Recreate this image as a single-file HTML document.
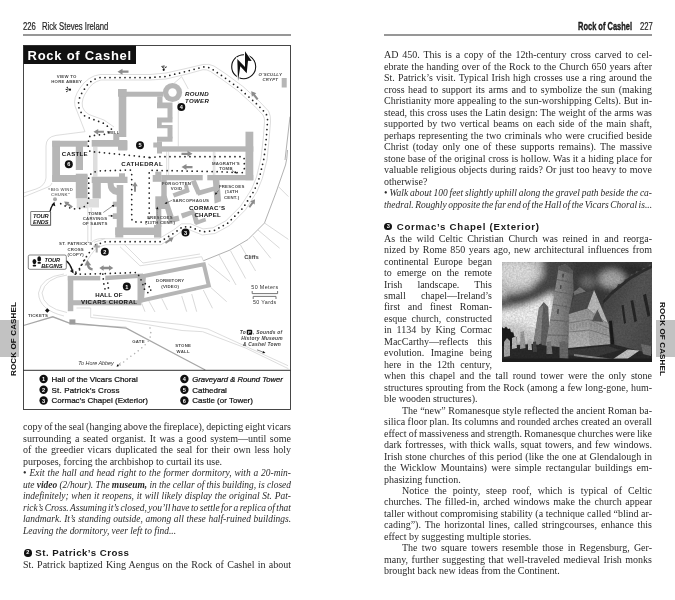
<!DOCTYPE html>
<html lang="en"><head><meta charset="utf-8"><title>Rock of Cashel</title>
<style>
html,body{margin:0;padding:0;background:#fff;}
body{width:675px;height:600px;position:relative;overflow:hidden;will-change:transform;font-family:'Liberation Serif',serif;color:#222;}
.t{position:absolute;white-space:pre;font-family:'Liberation Serif',serif;font-size:10.0px;line-height:12px;height:12px;color:#2a2a2a;}
.t b{font-weight:bold;}
.t i{font-size:9.45px;}
.hd{position:absolute;font-family:'Liberation Sans',sans-serif;white-space:pre;color:#222;-webkit-text-stroke:.2px #222;transform-origin:0 50%;}
.rule{position:absolute;height:1.3px;background:#979797;}
.h3{position:absolute;font-family:'Liberation Sans',sans-serif;font-weight:bold;white-space:pre;color:#1a1a1a;font-size:9.7px;line-height:12px;}
.bul{position:absolute;width:7.6px;height:7.6px;border-radius:50%;background:#111;color:#fff;font:bold 5.6px/7.6px 'Liberation Sans',sans-serif;text-align:center;}
.tab{position:absolute;background:#c2c2c2;}
.tabt{position:absolute;font-family:'Liberation Sans',sans-serif;font-weight:bold;font-size:8.05px;line-height:8.4px;white-space:pre;color:#111;letter-spacing:0.1px;}
#map{position:absolute;left:23px;top:45px;width:268px;height:365px;}
#photo{position:absolute;left:502px;top:262px;width:150px;height:100px;}
</style></head><body>
<div class="hd" style="left:23px;top:19px;font-size:11px;line-height:14px;transform:scaleX(0.70);">226</div>
<div class="hd" style="left:41.6px;top:19px;font-size:11px;line-height:14px;transform:scaleX(0.70);">Rick Steves Ireland</div>
<div class="rule" style="left:23px;top:34.3px;width:268px;"></div>
<div class="hd" style="left:578.3px;top:19px;font-size:11px;line-height:14px;font-weight:bold;-webkit-text-stroke:.35px #111;transform:scaleX(0.68);">Rock of Cashel</div>
<div class="hd" style="left:639.8px;top:19px;font-size:11px;line-height:14px;transform:scaleX(0.70);">227</div>
<div class="rule" style="left:384px;top:34.3px;width:268px;"></div>
<svg id="map" viewBox="23 45 268 365" width="268" height="365">
<defs>
<style>
.w{fill:#b6b6b6}
.lw{fill:#dedede}
.lo{fill:none;stroke:#d4d4d4;stroke-width:.8}
.mo{fill:none;stroke:#a8a8a8;stroke-width:.9}
.hc{fill:none;stroke:#c8c8c8;stroke-width:.7}
.dp{fill:none;stroke:#222;stroke-width:1.75;stroke-dasharray:0 5;stroke-linecap:round;stroke-linejoin:round}
.ga{fill:#8c8c8c}
.gl{font-family:'Liberation Sans',sans-serif;font-size:4.3px;fill:#484848;text-anchor:middle;letter-spacing:.25px;font-weight:bold}
.bl{font-family:'Liberation Sans',sans-serif;font-size:6.4px;fill:#111;font-weight:bold;font-style:italic;letter-spacing:.35px}
.lg{font-family:'Liberation Sans',sans-serif;font-size:8px;fill:#111;stroke:#111;stroke-width:.22}
.mk{fill:#111}
.mt{font-family:'Liberation Sans',sans-serif;font-size:5.6px;font-weight:bold;fill:#fff;text-anchor:middle}
</style>
<path id="arr" d="M-5.5,-1.1H0.5V-3L5.5,0L0.5,3V1.1H-5.5Z"/>
</defs>
<rect x="23" y="45" width="268" height="365" fill="#fff"/>

<!-- light ground outlines -->
<g class="lo">
<path d="M150,74.5H100Q88,76 80,88Q73,98 75,106L85,131.7L56,135.4Q46,137 46,146V178Q45,186 36,189L23.5,193"/>
<path d="M23.5,197L48,187Q51,186 52,183"/>
<path d="M150,74.5L166,73L186,68.5L203,64.5Q209,63.5 214,66L226,74L243,86.5L259.5,101.5L268.5,111Q271,116 270.5,122L269,140L267,160"/>
<path d="M178.3,101.7V146.5"/>
<path d="M267,160L262.3,178.5L257,191.5L245.5,209.8L230,225.3L215,233.5L202.3,235L189.5,229.8H183.6L176.8,235L161,244.7H106L96.6,247.7L91.2,254.5L85,264"/>
<path d="M150,80H101Q92,82 87,91Q81,99 82.5,107Q84,112 89,114.5L104,120L114,127M150,80L166,79L186,74.3L203,69.7Q207,69.3 210.5,71.5L221.5,79L238,91L254.5,106L263,115Q264.8,118 264.5,121.7L263.3,138L261,158L256.5,177L251.7,189L240.5,206.3L226,220.7L213,227.8L203,228.9L190.5,223.8H181.6L173.5,230L159,238.7H105L94,242.3"/>
<path d="M174,83.3L181.7,76.7L188.3,89"/>
<path d="M166.7,151.5V175M168.7,151.5V175M213.3,151.5V175M214.8,151.5V175"/>
<path d="M87.8,208V243M91.2,208V241"/>
<path d="M67,275Q45,278 42,293Q43,308 67,312.5"/>
<path d="M64,274Q41,277 38.5,293Q39,310 64,316"/>
<path d="M76.5,308H90.7V317.5L126.3,321L182,330.5L202.7,331.7L245.6,348L288.4,368.7M93,315L182,324.6L207.8,329L288,365.7M75.3,324.6L126.3,327"/>
<path d="M120,246.7L140,265.8L201.7,256.7L203.3,260.8"/>
<path d="M124,244L143,263L200,254"/>
<path d="M92,242Q96,238 105,238.5"/>
</g>

<!-- cliff edge and cliffs -->
<g class="mo">
<path d="M287.5,150Q287,160 285.5,165L276,192.5L264.5,223L248,239.5L230,250L203.3,260.8"/>
<path d="M290,116.7L285,160"/>
</g>
<g class="hc">
<path d="M278.3,186.5L288.4,196.6M264.5,223L288.4,239.4M258,230L279.6,248.2M253,236L270.8,258.3M240.5,245L255.6,271M230.5,250.8L245.6,278.5M219,255L236,285M208.3,264L230,281.7M210.8,287.5L226.7,301.7M203.3,290L212.5,308.3M191.7,294L196.7,311.7M181.7,296L186.7,311.7M161.7,298.3L167.5,310M148.3,300L155,312M141.7,303.3L145,311.7"/>
</g>

<!-- road / stone wall -->
<g fill="none" stroke="#a6a6a6" stroke-width="1.3">
<path d="M23.5,325.5L52.8,316.8L69.4,323L126.3,328.2L182,357.8L205.3,370"/>
</g>
<rect x="69.4" y="319.4" width="6" height="5.2" fill="#9c9c9c"/>
<path d="M150,328Q152.5,336 147,343Q139,351 128.6,357.8L119,366" fill="none" stroke="#b4b4b4" stroke-width="1.6" stroke-dasharray="0 4.6" stroke-linecap="round"/>

<!-- light gray fills -->
<rect class="lw" x="76.7" y="198.3" width="11.6" height="10"/>
<rect class="lw" x="88.3" y="199" width="10.7" height="8.5"/>
<rect class="lw" x="93" y="146.7" width="4.5" height="30"/>

<!-- walls -->
<g class="w">
<!-- N transept -->
<rect x="118.7" y="89" width="7.6" height="48"/>
<rect x="118" y="89" width="8.6" height="7.7"/>
<rect x="126" y="91.7" width="37.3" height="5"/>
<rect x="157.2" y="96.5" width="5.3" height="7"/>
<rect x="157" y="102.5" width="15.5" height="5.8"/>
<rect x="167.5" y="108" width="5" height="10.5"/>
<path d="M157,117.5H172.5V122.5H161.7V125H172.5V128.3H157Z"/>
<rect x="167.5" y="128" width="5" height="10.5"/>
<rect x="157" y="136.7" width="15.5" height="5"/>
<rect x="157" y="141.5" width="5" height="12"/>
<rect x="153.3" y="142.5" width="4" height="5"/>
<!-- choir -->
<rect x="162" y="146.3" width="91.3" height="5.4"/>
<rect x="245.5" y="131.7" width="7.8" height="48.5"/>
<rect x="207.3" y="175" width="46" height="5.3"/>
<rect x="161.3" y="175" width="41.4" height="5.3"/>
<rect x="155.3" y="171.7" width="6" height="4"/><rect x="152.7" y="175" width="8.8" height="6.8"/>
<!-- nave north / well knob -->
<rect x="91.7" y="140" width="27" height="6.7"/>
<rect x="113.3" y="134" width="6" height="6.5"/>
<rect x="118" y="140" width="9.5" height="10.5" rx="1"/>
<!-- castle -->
<rect x="52.2" y="140.8" width="7.8" height="41"/>
<rect x="52.2" y="140.8" width="35.3" height="5.9"/>
<rect x="75.8" y="146" width="7.2" height="24"/>
<rect x="52.2" y="175" width="35.3" height="7"/>
<rect x="75.8" y="173.7" width="11.7" height="24.6"/>
<!-- nave south west part -->
<rect x="91.7" y="176.7" width="35.8" height="6.3"/>
<rect x="119" y="173.3" width="6" height="4"/>
<rect x="92.5" y="182.5" width="8.3" height="16"/>
<path d="M107.5,182.5H113.5Q113.5,187.5 117,188V195Q107.5,194 107.5,182.5Z"/>
<rect x="116.7" y="185" width="6.6" height="50"/>
<rect x="112.8" y="201.7" width="4.2" height="5"/>
<rect x="112.8" y="213.3" width="4.2" height="5.7"/>
<!-- S transept bottom -->
<rect x="115.3" y="227.5" width="45.5" height="7.5"/>
<rect x="115.3" y="227.5" width="8" height="10"/>
<rect x="154" y="225" width="7.3" height="12.6"/>
<!-- S transept E wall -->
<rect x="161.3" y="180" width="5.4" height="17.6"/><rect x="155.3" y="196.3" width="11.4" height="12.7"/>
<rect x="156" y="197" width="5.3" height="30"/>
<!-- Cormac's chapel -->
<polygon points="161.3,195.8 166.6,195.8 173.7,216.6 167.8,217.8"/>
<polygon points="167.8,217.8 178.4,215.4 179.6,220.7 169,223.7"/>
<polygon points="172.5,193.5 187.3,188.1 189.1,192.3 174.3,197.6"/>
<polygon points="183.8,185.5 187.6,184.3 189.8,191.7 186,193"/>
<polygon points="190.9,181.6 195.6,179.8 200.9,192.3 196.8,194.7"/>
<polygon points="196.8,191.1 216.4,185.8 217.5,189.9 198,195.8"/>
<polygon points="212.8,179.8 219.3,179.8 221.1,201.2 214.6,203.5"/>
<polygon points="180.8,213.6 193.8,209.5 195,213.6 182.6,218.4"/>
<polygon points="191.5,213.6 195.6,212.4 198.6,220.1 205.1,217.8 206.3,221.3 196.2,224.9 194.4,223.7"/>
<!-- crypt -->
<rect x="281.7" y="78" width="5" height="9.5"/>
<!-- Hall of Vicars Choral -->
<rect x="67.8" y="275.9" width="32.5" height="4.5"/>
<polygon points="105.3,275.7 143,273.4 143,277.8 105.3,280.3"/>
<rect x="67.8" y="275.9" width="5.5" height="35.3"/>
<rect x="69.3" y="300.2" width="72" height="5.1"/>
<rect x="137.5" y="275" width="5" height="27.5"/>
</g>
<!-- round tower -->
<circle cx="172.5" cy="92.5" r="9.6" class="w"/><circle cx="172.5" cy="92.5" r="4.2" fill="#fff"/>
<!-- dormitory -->
<polygon points="144,276 203.8,264.3 208.8,285.6 142,300.4" fill="none" stroke="#b6b6b6" stroke-width="4" stroke-linejoin="miter"/>

<!-- dotted tour path -->
<g class="dp">
<!-- outer loop -->
<path d="M150,77.5H100Q89,80 84,90Q77,99 79,108Q81,115 88,117.5L103,123L112,129.5L106.5,134L90,136Q88,140 88.3,147L90,151.5L107,153L150,157.5"/>
<path d="M150,77.5L165,76.5L185,71.7L203,67Q208,66.5 212,69L223.3,76.7L240,89L256.7,104L265.8,113.3Q267.8,117 267.5,121.7L266.3,138.3L264,158.3L259.4,177.7L254.4,190.3L243,208L228,223L214,230.6L202.7,231.9L190,226.8H182.6L175,232.5L160,241.7H105.3L95.3,245L88.7,253.3L82,263.3L79.5,270L75.3,274.2"/>
<!-- choir loop -->
<path d="M150,157.5L160,156.7H241.8Q244.3,157 244.3,160V170Q244.3,172.7 241,172.7L220,171.7L150,170.3Q149.2,171 149.2,173.3V216.7Q149,222 145,222H136.7Q131.7,222 131.7,218.3V171.7Q131.5,170 130,170L100,170.8Q91,172 88.7,176.7V199Q88.3,207 78,208.8L72,208.8L63,205L57.5,201.7"/>
<!-- hall -->
<path d="M75.3,274.2L102,273.7L136.7,272.5L140,277.5L142.5,283.3L145,290.8L149,293.3L151.7,288.3L146.7,285L142.5,281"/>
<path d="M102.8,274L103.7,283.3L105,289M107.8,283L108.5,289.2"/>
<path d="M84.5,260L80,268L74.2,273.7"/>
</g>

<!-- gray arrows -->
<g class="ga">
<use href="#arr" transform="translate(123,71.7) rotate(180)"/>
<use href="#arr" transform="translate(98.7,131.8) rotate(180) scale(.95)"/>
<use href="#arr" transform="translate(187,153.8)"/>
<use href="#arr" transform="translate(187,167.1) rotate(180)"/>
<use href="#arr" transform="translate(135,186.7) rotate(-90) scale(.9)"/>
<use href="#arr" transform="translate(254.4,95.3) rotate(-128) scale(.95)"/>
<use href="#arr" transform="translate(252.2,203.2) rotate(-55) scale(.9)"/>
<use href="#arr" transform="translate(68.2,204.4) rotate(-144) scale(.9)"/>
<use href="#arr" transform="translate(169.5,240.2) rotate(-33) scale(.88)"/>
<path d="M99.3,268L103.6,265.2V266.7H109V265.2L113.3,268L109,270.8V269.3H103.6V270.8Z"/>
<path d="M92.6,269.4Q88.2,268.8 88,264.6" fill="none" stroke="#8c8c8c" stroke-width="2.3"/><path d="M84.6,265.4L87.4,260L91.2,265.2Z"/>
<circle cx="55" cy="199.2" r="2" fill="#aaa"/>
<path d="M95.7,243.5H97.7V245.6H99.8V247.4H97.7V252.5H95.7V247.4H93.6V245.6H95.7Z" fill="#aaa"/>
</g>

<!-- compass -->
<circle cx="243.7" cy="66.7" r="12" fill="none" stroke="#111" stroke-width="1.1"/>
<path d="M237.3,59L245,67L245,51.3L251.7,61L248,60.7L246.7,73.3L240.3,66.3L238,81Z" fill="#111" stroke="#fff" stroke-width="2" paint-order="stroke"/>
<!-- view icons -->
<g fill="#111">
<path d="M69,89.7l-2.6,-2.2l.9,-.9zM69,89.7l-3.3,.4l0,-1.3zM69,89.7l-2.2,2.6l-.9,-.9z"/><circle cx="70" cy="89.7" r="1.1"/>
<path d="M163.7,69l-2.4,-2.6l.9,-.8zM163.7,69l-.4,-3.6l1.3,0zM163.7,69l2.4,-2.8l.9,.9z"/><circle cx="163.7" cy="69.8" r="1.1"/>
<path d="M47.3,308.2L49.6,310.5L47.3,312.8L45,310.5Z"/>
</g>

<!-- small black pointers -->
<g stroke="#333" stroke-width=".5" fill="#111">
<path d="M50,211.7Q50.8,207.5 52.8,204.6" fill="none" stroke="#111" stroke-width="1.3"/><path d="M54.4,201.8l.9,4.4l-3.7,-1.5z" stroke="none"/>
<path d="M66.3,260.8Q70.2,264 72.2,270" fill="none" stroke="#111" stroke-width="1.4"/><path d="M73.6,273.6l-3.7,-2.6l3.3,-1.7z" stroke="none"/>
<path d="M103.3,212.5L113,205.7" fill="none"/><path d="M114.3,204.8l-1,2.4l-1.7,-2z" stroke="none"/>
<path d="M108.3,215.8H112" fill="none"/><path d="M113.3,215.9l-2.4,1.2v-2.4z" stroke="none"/>
<path d="M157.3,215.4V209" fill="none" stroke-dasharray="1 1"/><path d="M157.3,206.6l1.2,2.6h-2.4z" stroke="none"/>
<path d="M172,200.3L166.5,202.8" fill="none"/><path d="M164.6,203.7l1.8,-2l1,2.1z" stroke="none"/>
<path d="M218.5,190.5L216,193.6" fill="none"/><path d="M215,194.8l.5,-2.6l1.9,1.5z" stroke="none"/>
<path d="M232,170.5L235.5,172.6" fill="none"/><path d="M237,173.4l-2.8,-.3l1.2,-2z" stroke="none"/>
<path d="M257,349.8L263.5,352.3" fill="none" stroke="#111"/><path d="M265.4,353.1l-3,.2l.9,-2.2z" stroke="none"/>
<path d="M120.5,363L117.6,365.8" fill="none" stroke="#111"/><path d="M116.6,366.8l.7,-2.6l1.8,1.8z" stroke="none"/>
</g>

<!-- gray labels -->
<g class="gl">
<text x="66.7" y="78.2">VIEW TO</text><text x="66.7" y="83.2">HORE ABBEY</text>
<text x="270.3" y="76" font-style="italic">O’SCULLY</text><text x="270.3" y="80.6" font-style="italic">CRYPT</text>
<text x="113.3" y="134" font-size="3.9">WELL</text>
<text x="226" y="164.6">MAGRATH’S</text><text x="226" y="170.4">TOMB</text>
<text x="176.5" y="184.9">FORGOTTEN</text><text x="176.5" y="189.9">VOID</text>
<text x="190.8" y="201.5">SARCOPHAGUS</text>
<text x="231.7" y="188">FRESCOES</text><text x="231.7" y="193.1">(14TH</text><text x="231.7" y="198.6">CENT.)</text>
<text x="160" y="219.3">FRESCOES</text><text x="160.3" y="224">(13TH CENT.)</text>
<text x="60.7" y="191" fill="#777">“BIG WIND</text><text x="60.7" y="195.7" fill="#777">CHUNK”</text>
<text x="95" y="214.8">TOMB</text><text x="95" y="219.8">CARVINGS</text><text x="95" y="225.2">OF SAINTS</text>
<text x="75.7" y="245.3">ST. PATRICK’S</text><text x="75.7" y="250.7">CROSS</text><text x="75.7" y="255.7">(COPY)</text>
<text x="170.2" y="282">DORMITORY</text><text x="170.2" y="287.8">(VIDEO)</text>
<text x="38" y="317.3">TICKETS</text>
<text x="138.5" y="342.5">GATE</text>
<text x="183.2" y="347.1">STONE</text><text x="183.2" y="352.9">WALL</text>
<text x="251.5" y="259" font-size="5.9" letter-spacing="0">Cliffs</text>
<text x="264.9" y="289.4" font-size="5.4" letter-spacing=".35" font-weight="normal" fill="#333">50 Meters</text>
<text x="264.8" y="304" font-size="5.4" letter-spacing=".3" font-weight="normal" fill="#333">50 Yards</text>
<text x="96" y="365" font-size="5.4" font-style="italic" font-weight="normal" letter-spacing="0" fill="#333">To Hore Abbey</text>
<g font-style="italic" font-size="4.9" fill="#444"><text x="246" y="334" text-anchor="end">To</text><text x="253" y="334" text-anchor="start">, Sounds of</text><text x="262" y="340.1">History Museum</text><text x="262" y="346">&amp; Cashel Town</text></g>
</g>
<rect x="246.8" y="329.8" width="5.4" height="5" rx="1" fill="#111"/>
<text x="249.5" y="333.8" font-family="'Liberation Sans',sans-serif" font-size="4.4" font-weight="bold" fill="#fff" text-anchor="middle">P</text>
<g fill="none" stroke="#666" stroke-width=".9"><path d="M252.2,291V293.6H277.6V291M253.2,299V296.4H276V299"/></g>

<!-- bold labels -->
<g class="bl" style="font-size:6.1px">
<text x="185" y="96" letter-spacing=".33">ROUND</text><text x="185" y="102.8" letter-spacing=".33">TOWER</text>
<text x="61.7" y="156.1" font-style="normal" letter-spacing=".32">CASTLE</text>
<text x="121.3" y="165.6" font-style="normal" letter-spacing=".48">CATHEDRAL</text>
<text x="189" y="209.9" font-style="normal" letter-spacing=".42">CORMAC’S</text><text x="194.4" y="216.7" font-style="normal" letter-spacing=".25">CHAPEL</text>
<text x="95.2" y="296.6" font-style="normal" letter-spacing=".17">HALL OF</text><text x="81" y="303.8" font-style="normal" letter-spacing=".43">VICARS CHORAL</text>
</g>

<!-- tour boxes -->
<rect x="31.3" y="212.2" width="19.5" height="13.3" fill="#fff" stroke="#555" stroke-width=".6"/>
<rect x="30.8" y="211.7" width="19.5" height="13.3" fill="#fff" stroke="#333" stroke-width=".6"/>
<g class="bl" font-size="5.4" letter-spacing=".2"><text x="33" y="218" style="font-size:5.7px;letter-spacing:-.12px">TOUR</text><text x="33" y="223.8" style="font-size:5.7px;letter-spacing:-.12px">ENDS</text></g>
<rect x="28.3" y="255" width="38" height="14.3" rx="1.5" fill="#fff" stroke="#333" stroke-width=".6"/>
<g class="bl"><text x="44.5" y="261.9" style="font-size:5.7px;letter-spacing:-.12px">TOUR</text><text x="41.3" y="267.6" style="font-size:5.7px;letter-spacing:-.12px">BEGINS</text></g>
<g fill="#111"><ellipse cx="34.4" cy="261.6" rx="1.9" ry="2.6"/><rect x="32.7" y="264.8" width="3.4" height="1.7" rx=".7"/><ellipse cx="39.2" cy="258.9" rx="1.9" ry="2.6"/><rect x="37.5" y="262.1" width="3.4" height="1.7" rx=".7"/></g>

<!-- markers -->
<g>
<circle class="mk" cx="181.3" cy="107" r="4"/><text class="mt" x="181.3" y="109">4</text>
<circle class="mk" cx="140" cy="145.3" r="4"/><text class="mt" x="140" y="147.3">5</text>
<circle class="mk" cx="68.8" cy="164.2" r="4"/><text class="mt" x="68.8" y="166.2">6</text>
<circle class="mk" cx="185.5" cy="232.6" r="4"/><text class="mt" x="185.5" y="234.6">3</text>
<circle class="mk" cx="104.8" cy="251.7" r="4"/><text class="mt" x="104.8" y="253.7">2</text>
<circle class="mk" cx="126.8" cy="286.5" r="4"/><text class="mt" x="126.8" y="288.5">1</text>
</g>

<!-- title -->
<rect x="23" y="45" width="113" height="19" fill="#111"/>
<text x="27.5" y="59.7" font-family="'Liberation Sans',sans-serif" font-size="13" font-weight="bold" fill="#fff" letter-spacing=".75">Rock of Cashel</text>

<!-- legend -->
<line x1="23" y1="370.3" x2="291" y2="370.3" stroke="#333" stroke-width="1"/>
<g>
<circle class="mk" cx="43.6" cy="379" r="4.2"/><text class="mt" x="43.6" y="381.1">1</text>
<circle class="mk" cx="43.6" cy="389.7" r="4.2"/><text class="mt" x="43.6" y="391.8">2</text>
<circle class="mk" cx="43.6" cy="400.5" r="4.2"/><text class="mt" x="43.6" y="402.6">3</text>
<circle class="mk" cx="184.4" cy="379" r="4.2"/><text class="mt" x="184.4" y="381.1">4</text>
<circle class="mk" cx="184.4" cy="389.7" r="4.2"/><text class="mt" x="184.4" y="391.8">5</text>
<circle class="mk" cx="184.4" cy="400.5" r="4.2"/><text class="mt" x="184.4" y="402.6">6</text>
</g>
<g class="lg">
<text x="51.6" y="381.8">Hall of the Vicars Choral</text>
<text x="51.6" y="392.5" letter-spacing=".15">St. Patrick’s Cross</text>
<text x="51.6" y="403.3">Cormac’s Chapel (Exterior)</text>
<text x="192.2" y="381.8" font-style="italic" font-size="7.7">Graveyard &amp; Round Tower</text>
<text x="192.2" y="392.5">Cathedral</text>
<text x="192.2" y="403.3">Castle (or Tower)</text>
</g>
<rect x="23.5" y="45.5" width="267" height="364" fill="none" stroke="#333" stroke-width=".9"/>
</svg>

<svg id="photo" viewBox="0 0 150 100" width="150" height="100" preserveAspectRatio="none">
<defs>
<filter id="b3" x="-10%" y="-10%" width="120%" height="120%"><feGaussianBlur stdDeviation="3"/></filter>
<filter id="b1" x="-5%" y="-5%" width="110%" height="110%"><feGaussianBlur stdDeviation=".5"/></filter>
<filter id="tx" x="0" y="0" width="100%" height="100%"><feTurbulence type="fractalNoise" baseFrequency=".55" numOctaves="2" seed="4" result="n"/><feColorMatrix in="n" type="matrix" values="0 0 0 0 0  0 0 0 0 0  0 0 0 0 0  .9 .9 0 0 -.62" result="a"/><feComposite in="a" in2="SourceGraphic" operator="in"/></filter>
<clipPath id="pc"><rect width="150" height="100"/></clipPath>
<linearGradient id="tw" x1="0" x2="1"><stop offset="0" stop-color="#9c9c9c"/><stop offset=".55" stop-color="#868686"/><stop offset="1" stop-color="#666"/></linearGradient>
<linearGradient id="cw" x1="0" x2="1" y1="0" y2="1"><stop offset="0" stop-color="#3c3c3c"/><stop offset=".5" stop-color="#565656"/><stop offset="1" stop-color="#484848"/></linearGradient>
<linearGradient id="cb" x1="0" x2="0" y1="0" y2="1"><stop offset="0" stop-color="#969696"/><stop offset="1" stop-color="#b8b8b8"/></linearGradient>
</defs>
<g clip-path="url(#pc)">
<rect width="150" height="100" fill="#4c4c4c"/>
<!-- sky -->
<g filter="url(#b3)">
<rect x="-5" y="-5" width="46" height="42" fill="#c6c6c6"/>
<ellipse cx="14" cy="11" rx="20" ry="11" fill="#e0e0e0"/>
<polygon points="4,31 14,31 28,27 41,14 48,-5 80,-5 64,22 50,33 32,44 16,44 4,39" fill="#4a4a4a"/>
<polygon points="-5,47 20,44 36,38 52,30 56,52 46,84 -5,84" fill="#f2f2f2"/>
<polygon points="-5,60 20,62 38,70 38,84 -5,84" fill="#cfcfcf"/>
<rect x="70" y="-5" width="90" height="50" fill="#3a3a3a"/>
<ellipse cx="110" cy="17" rx="13" ry="9" fill="#a8a8a8"/>
<ellipse cx="86" cy="20" rx="8" ry="6" fill="#6e6e6e"/>
<ellipse cx="130" cy="8" rx="14" ry="5" fill="#2c2c2c"/>
</g>
<g filter="url(#b1)">
<!-- distant round tower -->
<polygon points="41.8,40 46.3,45 48,84 31,84 37,46" fill="#626262"/>
<polygon points="37,46 41,43.5 38.5,84 31,84" fill="#858585"/>
<!-- cathedral wall right -->
<polygon points="100.5,39 104,33 107,33.5 110,28 114,27 116,22 121,21.5 123,17 127,17.5 129,12 133,13 134,9 139,10 141,6 146,6.5 147,2.5 150,3 150,100 118,100 112,70" fill="url(#cw)"/>
<polygon points="100.5,39 110,29 128,14.5 140,8 150,3 150,6 140,11 128,18 111,32 101,42" fill="#2e2e2e"/>
<polygon points="119.5,43.5 121.6,42.8 124,61 122,62" fill="#262626"/>
<polygon points="128.5,39 131.2,38 135,59 132.4,60.2" fill="#262626"/>
<polygon points="141,33 144,31.7 148.4,53.5 145.6,55" fill="#262626"/>
<polygon points="107,59 110,58.5 112.5,84 109,84" fill="#1e1e1e"/>
<!-- main tower -->
<polygon points="56.9,4.5 63.5,2 70.8,8.8 71.6,29 67.2,51 66.2,88 42.8,89" fill="url(#tw)"/>
<polygon points="56.9,4.5 63.5,2 70.8,8.8 70.6,12 56.4,8" fill="#5c5c5c"/>
<g stroke="#5e5e5e" stroke-width=".7" fill="none"><path d="M55,17.5L71.2,21M53.2,29.5L71.4,32.5M50.8,42.5L69,45.5M48.2,58L67,59.5M45.6,73L66.5,73.5"/></g>
<g fill="#4a4a4a"><polygon points="60.5,11.5 62,11.8 61.6,15.5 60.1,15.2"/><polygon points="58.2,23 59.6,23.3 59.2,27 57.8,26.7"/><polygon points="55.5,47 57,47.2 56.4,52 54.9,51.8"/></g>
<!-- chapel roof, gable, body -->
<polygon points="72.4,33 91.7,28.5 85.3,47 67,52" fill="#4e4e4e"/>
<polygon points="71.5,30 78,25 84,29.5 72.4,33" fill="#777"/>
<polygon points="92.1,28 85.3,46.5 106.4,62" fill="#bcbcbc"/>
<polygon points="67,52 85.3,46.5 106.4,62 108.2,83 88,88 66.2,88" fill="url(#cb)"/>
<polygon points="85.3,46.5 106.4,62 108.2,83 88,88" fill="#9a9a9a" opacity=".6"/>
<polygon points="95.4,47.5 90,59 101,60" fill="#555"/>
<g stroke="#666" stroke-width=".6" fill="none"><path d="M66.8,61L87,57.5L107,66.5M66.5,70L87.5,68L107.6,74"/></g>
<g stroke="#6a6a6a" stroke-width=".45" fill="none" opacity=".8"><path d="M69,62.5v5M72,62v5M75,61.5v5M78,61v5M81,60.5v5M84,60v5M89,60v5.5M92,61.5v5.5M95,63v5.5M98,64.3v5.5M101,65.6v5.5M104,67v5.5"/></g>
<!-- ground -->
<polygon points="0,84 30,82 66,86 110,82 150,92 150,100 0,100" fill="#2b2b2b"/>
<polygon points="64,88 106,84 118,88 90,96 64,93" fill="#3a3a3a"/>
<polygon points="108,99 125.5,87.5 137.5,88.5 121,100" fill="#c4c4c4"/>
<polygon points="72,92 112,97 112,99 72,94" fill="#8a8a8a"/>
<!-- trees and gravestones left -->
<polygon points="0,65 2,66.5 4,64.5 6,67 8,66.5 9,70 11.5,70.5 12,74 14.5,75 14,84 0,84" fill="#1e1e1e"/>
<polygon points="2,80 5,76 8,79 8,94 2,95" fill="#a8a8a8"/>
<polygon points="10,76 14,74 15,86 10,87" fill="#bcbcbc"/>
<polygon points="18.5,70 22,69 23.5,86 18,87" fill="#9c9c9c"/>
<polygon points="26,78 29,77 30,88 26,88" fill="#b4b4b4"/>
<polygon points="31,80 34,79.5 35,90 31,90" fill="#444"/>
<polygon points="37,82 39.5,81.5 40,90 37,90" fill="#2a2a2a"/>
<polygon points="44.7,80 49,79 50.5,92 44.5,92" fill="#7a7a7a"/>
<polygon points="57.5,80 62,79 66,81 66.3,97 57.5,96" fill="#6a6a6a"/>
<polygon points="139,82 149,84 149,94 141,92" fill="#6e6e6e"/>
</g>
<rect width="150" height="100" filter="url(#tx)" fill="#000" opacity=".22"/>
<rect y="96.5" width="150" height="3.5" fill="#1c1c1c"/>
</g>
</svg>

<div class="tab" style="left:0;top:320px;width:19px;height:37px;"></div>
<div class="tabt" style="left:13.5px;top:338.5px;transform:translate(-50%,-50%) rotate(-90deg);">ROCK OF CASHEL</div>
<div class="tab" style="left:656px;top:320px;width:19px;height:37px;"></div>
<div class="tabt" style="left:662.3px;top:338.5px;transform:translate(-50%,-50%) rotate(90deg);">ROCK OF CASHEL</div>
<div class="bul" style="left:24px;top:549px;">2</div>
<div class="h3" style="left:35.3px;top:546.9px;letter-spacing:0.47px;">St. Patrick’s Cross</div>
<div class="bul" style="left:384.4px;top:222.6px;">3</div>
<div class="h3" style="left:396.7px;top:220.6px;letter-spacing:0.71px;">Cormac’s Chapel (Exterior)</div>
<div class="t" style="left:23px;top:421.42px;word-spacing:-0.606px;letter-spacing:0.000px;">copy of the seal (hanging above the fireplace), depicting eight vicars</div>
<div class="t" style="left:23px;top:432.92px;word-spacing:1.097px;">surrounding a seated organist. It was a good system—until some</div>
<div class="t" style="left:23px;top:444.42px;word-spacing:1.266px;">of the greedier vicars duplicated the seal for their own less holy</div>
<div class="t" style="left:23px;top:455.92px;">purposes, forcing the archbishop to curtail its use.</div>
<div class="t" style="left:23px;top:467.42px;word-spacing:0.492px;">• <i>Exit the hall and head right to the former dormitory, with a 20-min-</i></div>
<div class="t" style="left:23px;top:478.92px;word-spacing:-0.147px;letter-spacing:0.000px;"><i>ute <b>video</b> (2/hour). The <b>museum,</b> in the cellar of this building, is closed</i></div>
<div class="t" style="left:23px;top:490.42px;word-spacing:0.399px;"><i>indefinitely; when it reopens, it will likely display the original St. Pat-</i></div>
<div class="t" style="left:23px;top:501.92px;word-spacing:-0.900px;letter-spacing:-0.005px;"><i>rick’s Cross. Assuming it’s closed, you’ll have to settle for a replica of that</i></div>
<div class="t" style="left:23px;top:513.42px;word-spacing:0.262px;"><i>landmark. It’s standing outside, among all these half-ruined buildings.</i></div>
<div class="t" style="left:23px;top:524.92px;"><i>Leaving the dormitory, veer left to find...</i></div>
<div class="t" style="left:23px;top:558.82px;word-spacing:0.781px;">St. Patrick baptized King Aengus on the Rock of Cashel in about</div>
<div class="t" style="left:384px;top:49.42px;word-spacing:1.358px;">AD 450. This is a copy of the 12th-century cross carved to cel-</div>
<div class="t" style="left:384px;top:60.90px;word-spacing:0.488px;">ebrate the handing over of the Rock to the Church 650 years after</div>
<div class="t" style="left:384px;top:72.37px;word-spacing:0.584px;">St. Patrick’s visit. Typical Irish high crosses use a ring around the</div>
<div class="t" style="left:384px;top:83.84px;word-spacing:1.058px;">cross head to support its arms and to symbolize the sun (making</div>
<div class="t" style="left:384px;top:95.31px;word-spacing:0.273px;">Christianity more appealing to the sun-worshipping Celts). But in-</div>
<div class="t" style="left:384px;top:106.78px;word-spacing:0.199px;">stead, this cross uses the Latin design: The weight of the arms was</div>
<div class="t" style="left:384px;top:118.25px;word-spacing:1.239px;">supported by two vertical beams on each side of the main shaft,</div>
<div class="t" style="left:384px;top:129.72px;word-spacing:0.664px;">perhaps representing the two criminals who were crucified beside</div>
<div class="t" style="left:384px;top:141.19px;word-spacing:1.715px;">Christ (today only one of these supports remains). The massive</div>
<div class="t" style="left:384px;top:152.66px;word-spacing:0.232px;">stone base of the original cross is hollow. Was it a hiding place for</div>
<div class="t" style="left:384px;top:164.12px;word-spacing:0.417px;">valuable religious objects during raids? Or just too heavy to move</div>
<div class="t" style="left:384px;top:175.59px;">otherwise?</div>
<div class="t" style="left:384px;top:187.07px;word-spacing:-0.427px;letter-spacing:0.000px;">• <i>Walk about 100 feet slightly uphill along the gravel path beside the ca-</i></div>
<div class="t" style="left:384px;top:198.54px;word-spacing:-0.806px;letter-spacing:0.000px;"><i>thedral. Roughly opposite the far end of the Hall of the Vicars Choral is...</i></div>
<div class="t" style="left:384px;top:232.62px;word-spacing:2.045px;">As the wild Celtic Christian Church was reined in and reorga-</div>
<div class="t" style="left:384px;top:244.09px;word-spacing:1.083px;">nized by Rome 850 years ago, new architectural influences from</div>
<div class="t" style="left:384px;top:255.57px;word-spacing:2.906px;">continental Europe began</div>
<div class="t" style="left:384px;top:267.03px;word-spacing:2.746px;">to emerge on the remote</div>
<div class="t" style="left:384px;top:278.50px;word-spacing:12.570px;">Irish landscape. This</div>
<div class="t" style="left:384px;top:289.97px;word-spacing:12.750px;">small chapel—Ireland’s</div>
<div class="t" style="left:384px;top:301.44px;word-spacing:5.172px;">first and finest Roman-</div>
<div class="t" style="left:384px;top:312.91px;word-spacing:2.211px;">esque church, constructed</div>
<div class="t" style="left:384px;top:324.38px;word-spacing:2.234px;">in 1134 by King Cormac</div>
<div class="t" style="left:384px;top:335.85px;word-spacing:6.641px;">MacCarthy—reflects this</div>
<div class="t" style="left:384px;top:347.32px;word-spacing:3.867px;">evolution. Imagine being</div>
<div class="t" style="left:384px;top:358.79px;word-spacing:2.793px;">here in the 12th century,</div>
<div class="t" style="left:384px;top:370.26px;word-spacing:2.021px;">when this chapel and the tall round tower were the only stone</div>
<div class="t" style="left:384px;top:381.74px;word-spacing:0.215px;">structures sprouting from the Rock (among a few long-gone, hum-</div>
<div class="t" style="left:384px;top:393.20px;">ble wooden structures).</div>
<div class="t" style="left:402px;top:404.67px;word-spacing:0.082px;">The “new” Romanesque style reflected the ancient Roman ba-</div>
<div class="t" style="left:384px;top:416.14px;word-spacing:0.003px;">silica floor plan. Its columns and rounded arches created an overall</div>
<div class="t" style="left:384px;top:427.62px;word-spacing:-0.391px;letter-spacing:0.000px;">effect of massiveness and strength. Romanesque churches were like</div>
<div class="t" style="left:384px;top:439.08px;word-spacing:0.802px;">dark fortresses, with thick walls, squat towers, and few windows.</div>
<div class="t" style="left:384px;top:450.55px;word-spacing:0.506px;">Irish stone churches of this period (like the one at Glendalough in</div>
<div class="t" style="left:384px;top:462.02px;word-spacing:1.750px;">the Wicklow Mountains) were simple rectangular buildings em-</div>
<div class="t" style="left:384px;top:473.50px;">phasizing function.</div>
<div class="t" style="left:402px;top:484.96px;word-spacing:3.441px;">Notice the pointy, steep roof, which is typical of Celtic</div>
<div class="t" style="left:384px;top:496.43px;word-spacing:1.174px;">churches. The filled-in, arched windows make the church appear</div>
<div class="t" style="left:384px;top:507.90px;word-spacing:0.062px;">taller without compromising stability (a technique called “blind ar-</div>
<div class="t" style="left:384px;top:519.38px;word-spacing:1.420px;">cading”). The horizontal lines, called stringcourses, enhance this</div>
<div class="t" style="left:384px;top:530.85px;">effect by suggesting multiple stories.</div>
<div class="t" style="left:402px;top:542.31px;word-spacing:1.688px;">The two square towers resemble those in Regensburg, Ger-</div>
<div class="t" style="left:384px;top:553.78px;word-spacing:1.007px;">many, further suggesting that well-traveled medieval Irish monks</div>
<div class="t" style="left:384px;top:565.25px;">brought back new ideas from the Continent.</div>
</body></html>
